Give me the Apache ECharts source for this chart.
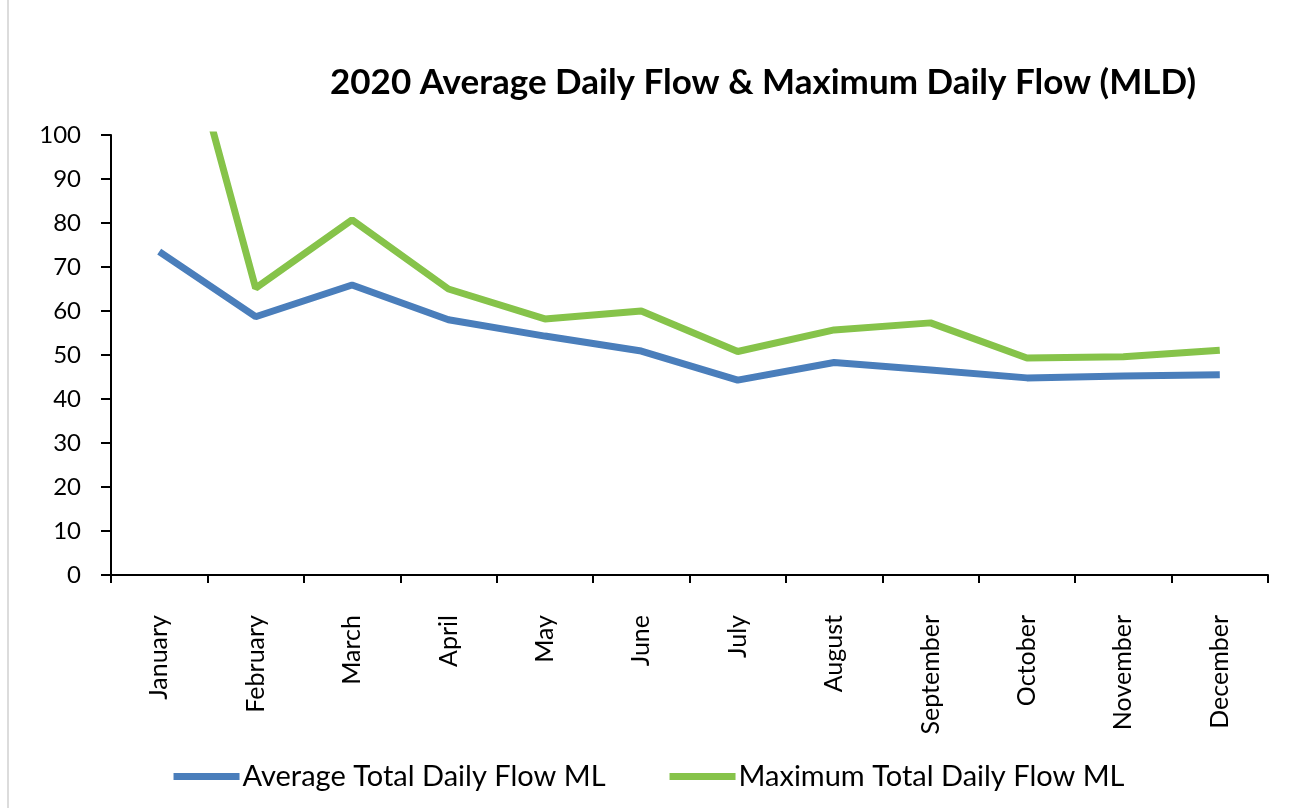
<!DOCTYPE html>
<html>
<head>
<meta charset="utf-8">
<title>2020 Average Daily Flow & Maximum Daily Flow (MLD)</title>
<script src="https://cdn.jsdelivr.net/npm/echarts@6/dist/echarts.min.js"></script>
<style>
  html, body { margin: 0; padding: 0; background: #fff; }
  #chart { width: 1298px; height: 808px; }
</style>
</head>
<body>
<div id="chart"></div>
<script>
// months on the category axis
var months = ['January', 'February', 'March', 'April', 'May', 'June',
  'July', 'August', 'September', 'October', 'November', 'December'];
// values (MLD)
var avgFlow = [73.5, 58.7, 65.9, 58.0, 54.3, 50.9, 44.3, 48.3, 46.6, 44.8, 45.2, 45.5];
// January max goes off the top of the axis
var maxFlow = [146, 65.2, 80.7, 65.0, 58.2, 60.0, 50.8, 55.7, 57.3, 49.3, 49.6, 51.1];
var yTicks = [0, 10, 20, 30, 40, 50, 60, 70, 80, 90, 100];

var fontFam = 'Lato, "Open Sans", sans-serif';
var chart = echarts.init(document.getElementById('chart'));

var option = {
  backgroundColor: '#fff',
  animation: false,
  title: {
    text: '2020 Average Daily Flow & Maximum Daily Flow (MLD)',
    left: 758,
    textAlign: 'center',
    top: 60,
    textStyle: { fontFamily: fontFam, fontWeight: 'bold', fontSize: 35, color: '#000' }
  },
  legend: {
    bottom: 12,
    left: 'center',
    icon: 'rect',
    itemWidth: 66,
    itemHeight: 7,
    itemGap: 64,
    textStyle: { fontFamily: fontFam, fontSize: 29, color: '#000', padding: [0, 0, 0, -2] },
    data: ['Average Total Daily Flow ML', 'Maximum Total Daily Flow ML']
  },
  grid: { left: 111, right: 30, top: 135, bottom: 233, containLabel: false },
  xAxis: {
    type: 'category',
    data: months,
    boundaryGap: true,
    axisLine: { lineStyle: { color: '#000', width: 2 } },
    axisTick: { show: true, length: 8, lineStyle: { color: '#000', width: 2 } },
    axisLabel: { rotate: 90, margin: 40, fontFamily: fontFam, fontSize: 25, color: '#000', interval: 0 },
    splitLine: { show: false }
  },
  yAxis: {
    type: 'value',
    min: yTicks[0],
    max: yTicks[yTicks.length - 1],
    interval: 10,
    axisLine: { show: true, lineStyle: { color: '#000', width: 2 } },
    axisTick: { show: true, length: 10, lineStyle: { color: '#000', width: 2 } },
    axisLabel: { margin: 30, fontFamily: fontFam, fontSize: 24, color: '#000' },
    splitLine: { show: false }
  },
  graphic: [{
    type: 'line',
    shape: { x1: 8, y1: 0, x2: 8, y2: 808 },
    style: { stroke: '#dcdcdc', lineWidth: 2 }
  }],
  series: [{
    name: 'Average Total Daily Flow ML',
    type: 'line',
    data: avgFlow,
    symbol: 'none',
    clip: true,
    lineStyle: { color: '#4a7ebb', width: 7 },
    itemStyle: { color: '#4a7ebb' }
  }, {
    name: 'Maximum Total Daily Flow ML',
    type: 'line',
    data: maxFlow,
    symbol: 'none',
    clip: true,
    lineStyle: { color: '#86c34a', width: 7 },
    itemStyle: { color: '#86c34a' }
  }]
};
chart.setOption(option);
</script>
</body>
</html>
